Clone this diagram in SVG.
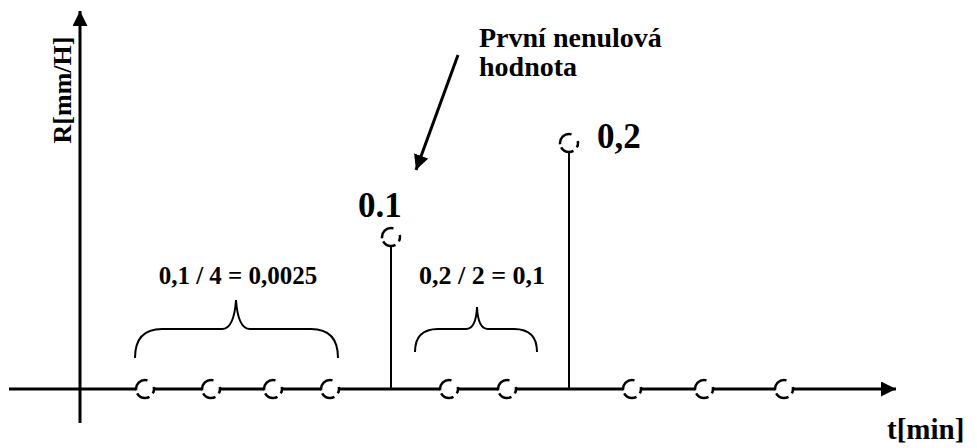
<svg xmlns="http://www.w3.org/2000/svg" width="977" height="448" viewBox="0 0 977 448">
<style>
text{font-family:'Liberation Serif',Tinos,'Times New Roman','DejaVu Serif',serif;font-weight:700;fill:#000}
.ax{stroke:#000;stroke-width:3;fill:none}
.stem{stroke:#000;stroke-width:2;fill:none}
.br{stroke:#000;stroke-width:2;fill:none}
.pt{fill:#fff;stroke:#000;stroke-width:2.5;stroke-dasharray:4.7 4.7 14.1 3.3 17.9 9.4 2.4 0}
</style>
<defs>
<marker id="ah" viewBox="0 0 10 10" refX="10" refY="5" markerWidth="5" markerHeight="5" markerUnits="strokeWidth" orient="auto">
<path d="M0,0 L10,5 L0,10 Z" fill="#000"/>
</marker>
</defs>
<g id="axes">
<line class="ax" x1="80" y1="423" x2="80" y2="11" marker-end="url(#ah)"/>
<line class="ax" x1="9" y1="389" x2="896" y2="389" marker-end="url(#ah)"/>
<text x="71" y="90" font-size="26" text-anchor="middle" transform="rotate(-90 71 90)">R[mm/H]</text>
<text x="887" y="439" font-size="29">t[min]</text>
</g>
<g id="stems">
<line class="stem" x1="391" y1="389" x2="391" y2="245"/>
<line class="stem" x1="569" y1="389" x2="569" y2="151"/>
</g>
<g id="points">
<circle class="pt" cx="145" cy="389" r="9"/>
<circle class="pt" cx="211" cy="389" r="9"/>
<circle class="pt" cx="273" cy="389" r="9"/>
<circle class="pt" cx="330" cy="389" r="9"/>
<circle class="pt" cx="449" cy="389" r="9"/>
<circle class="pt" cx="507" cy="389" r="9"/>
<circle class="pt" cx="632" cy="389" r="9"/>
<circle class="pt" cx="704" cy="389" r="9"/>
<circle class="pt" cx="784" cy="389" r="9"/>
<circle class="pt" cx="391" cy="237" r="9"/>
<circle class="pt" cx="569" cy="143" r="9"/>
</g>
<g id="values">
<text x="358" y="217" font-size="35">0.1</text>
<text x="597" y="148" font-size="35">0,2</text>
</g>
<g id="brace1">
<path class="br" d="M135,358 Q135,329 162,329 L222,329 Q234,329 236,300 Q238,329 250,329 L311,329 Q338,329 338,358"/>
<text x="238" y="284" font-size="25" text-anchor="middle">0,1 / 4 = 0,0025</text>
</g>
<g id="brace2">
<path class="br" d="M415,352 Q415,329 438,329 L466,329 Q476,329 477,307 Q478,329 488,329 L514,329 Q537,329 537,352"/>
<text x="482" y="284" font-size="26" text-anchor="middle">0,2 / 2 = 0,1</text>
</g>
<g id="annotation">
<line x1="458" y1="55" x2="416" y2="170" stroke="#000" stroke-width="3" marker-end="url(#ah)"/>
<text x="479" y="47" font-size="28">První nenulová</text>
<text x="479" y="76" font-size="28">hodnota</text>
</g>
</svg>
